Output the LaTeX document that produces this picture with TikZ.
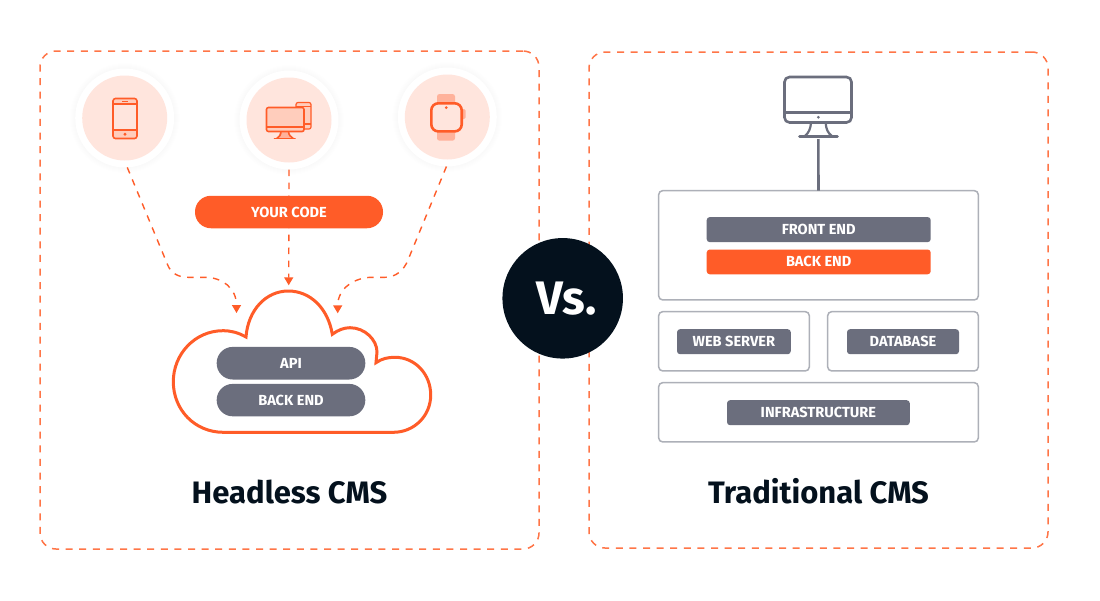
\documentclass[tikz,border=0pt]{standalone}
\usepackage{fontspec}
\setmainfont{Fira Sans}
\usetikzlibrary{arrows.meta}
\definecolor{cmsorange}{HTML}{FF5C28}
\definecolor{cmsframe}{HTML}{FF7547}
\definecolor{cmsgray}{HTML}{6B6E7D}
\definecolor{cmsedge}{HTML}{ADB0B8}
\definecolor{cmsdark}{HTML}{04111D}
\definecolor{cmsdisc}{HTML}{FFE5DD}
\definecolor{cmstint}{HTML}{FFCDBC}
\definecolor{cmsstrap}{HTML}{FFB29B}
\tikzset{
  dashframe/.style={draw=cmsframe,line width=1.5pt,dash pattern=on 7pt off 6.6pt,rounded corners=16pt,inner sep=0pt,outer sep=0pt},
  dashlink/.style={draw=cmsorange,line width=1.4pt,dash pattern=on 6.5pt off 6.5pt,-{Triangle[width=9pt,length=8pt]}},
  ringnode/.style={circle,fill=white,minimum size=99pt,inner sep=0pt,outer sep=0pt},
  pillnode/.style={rounded corners=16pt,fill=#1,text=white,font=\bfseries\fontsize{14.6}{14.6}\selectfont,inner sep=0pt,outer sep=0pt},
  barnode/.style={rounded corners=3pt,fill=#1,text=white,font=\bfseries\fontsize{14.6}{14.6}\selectfont,inner sep=0pt,outer sep=0pt},
  layerbox/.style={draw=cmsedge,line width=1.5pt,rounded corners=4pt,inner sep=0pt,outer sep=0pt},
  icon/.style={draw=cmsorange,line width=1.6pt},
  screenicon/.style={draw=cmsgray,line width=2.6pt},
  titlenode/.style={text=cmsdark,font=\bfseries\fontsize{31}{31}\selectfont,anchor=base,inner sep=0pt}
}
\begin{document}
\begin{tikzpicture}[x=1pt,y=-1pt]
\useasboundingbox[fill=white] (0,0) rectangle (1100,600);

% frames
\node[dashframe,minimum width=499pt,minimum height=498pt] (headlessframe) at (289.5,300) {};
\node[dashframe,minimum width=459pt,minimum height=496pt] (traditionalframe) at (818.5,300) {};

% device circles
\foreach \iconname/\ix/\iy in {phone/124.7/118,desktop/289/120,watch/447.3/117}{
  \foreach \r in {50,51,52,53,54,55}
    \fill[black,opacity=.004] (\ix,\iy) circle (\r);
  \node[ringnode] (\iconname) at (\ix,\iy) {};
  \fill[cmsdisc] (\ix,\iy) circle (42.5);
}

% phone icon
\fill[cmstint] (113,98.5) rectangle (137,104);
\fill[cmstint] (113,130) rectangle (137,138.5);
\draw[icon,rounded corners=2.5pt] (113,98.5) rectangle (137,138.5);
\draw[icon] (113,104) -- (137,104) (113,130) -- (137,130);
\draw[icon] (122,101.3) -- (128,101.3);
\fill[cmsorange] (125,134.2) circle (1.7);

% desktop icon
\fill[cmstint,rounded corners=2pt] (296,102.5) rectangle (311,129);
\draw[icon,line width=1.2pt,rounded corners=2pt] (296,102.5) rectangle (311,129);
\draw[icon,line width=1.2pt] (296,106.5) -- (311,106.5) (304,124) -- (311,124);
\fill[cmstint,rounded corners=2pt] (266.5,107.5) rectangle (304,131.5);
\fill[cmsstrap] (280,132) -- (289,132) -- (291,138) -- (278,138) -- cycle;
\draw[icon,rounded corners=2pt] (266.5,107.5) rectangle (304,131.5);
\draw[icon] (266.5,126.7) -- (304,126.7);
\draw[icon] (281,131.5) .. controls (281,135) and (279,137) .. (277,138.3);
\draw[icon] (288.5,131.5) .. controls (288.5,135) and (291,137) .. (293,138.3);
\draw[icon,line cap=round] (274.5,138.3) -- (295,138.3);

% watch icon
\fill[cmsstrap,rounded corners=2.5pt] (437,94) rectangle (455,106);
\fill[cmsstrap,rounded corners=2.5pt] (437,129) rectangle (455,140.7);
\fill[cmsstrap,rounded corners=1.5pt] (459,109) rectangle (465.7,119);
\draw[draw=cmsorange,line width=2.6pt,fill=cmsdisc,rounded corners=7pt] (431.3,103.3) rectangle (461.7,131.4);
\fill[cmsorange] (446.3,107.6) circle (1.5);

% connectors
\coordinate (cloudleft) at (236.5,313);
\coordinate (cloudtop) at (288.7,285.3);
\coordinate (cloudright) at (337.7,313.3);
\draw[dashlink] (phone.-87) -- (167.7,265) .. controls (171,273) and (178,277.3) .. (188,277.3) -- (205,277.3) .. controls (222,277.3) and (236.5,288) .. (cloudleft);
\draw[dashlink] (desktop.south) -- (cloudtop);
\draw[dashlink] (watch.-91) -- (408,260) .. controls (404,270) and (396,277.3) .. (385,277.3) -- (372,277.3) .. controls (355,277.3) and (337.7,288) .. (cloudright);

\node[pillnode=cmsorange,minimum width=188pt,minimum height=32.5pt] (yourcode) at (289,212) {YOUR CODE};

% cloud
\draw[cmsorange,line width=3pt,miter limit=6] (246,337) .. controls (248,310) and (266,291) .. (288.3,291) .. controls (310,291) and (328,308) .. (332.3,334.3) .. controls (338,330) and (344,327.7) .. (350,327.7) .. controls (365,327.7) and (377,340) .. (377,352) -- (376,362.7) .. controls (382,358.5) and (388,357.3) .. (395,357.3) .. controls (415,357.3) and (430.7,374) .. (430.7,395) .. controls (430.7,416) and (414,432.3) .. (393.3,432.3) -- (223.3,432.3) .. controls (195,432.3) and (173.3,410) .. (173.3,381.7) .. controls (173.3,354) and (195,330.7) .. (223,330.7) .. controls (231,330.7) and (238,332.5) .. (246,337) -- cycle;
\node[pillnode=cmsgray,minimum width=148.6pt,minimum height=32.6pt] (api) at (291,363.2) {API};
\node[pillnode=cmsgray,minimum width=148.6pt,minimum height=32.4pt] (backend) at (291,400.1) {BACK END};

% monitor
\draw[screenicon,rounded corners=5pt] (784.5,77) rectangle (851.5,122.5);
\draw[screenicon] (784.5,112.3) -- (851.5,112.3);
\fill[cmsgray] (818.3,117.3) circle (1.5);
\draw[screenicon,line width=2.2pt] (811,123) .. controls (810.5,129) and (808.5,133) .. (805,136);
\draw[screenicon,line width=2.2pt] (825.7,123) .. controls (826,129) and (828,133) .. (831.7,136);
\draw[screenicon,line cap=round] (799.5,136.3) -- (837.5,136.3);
\coordinate (monitorfoot) at (818.3,139);

% layers
\node[layerbox,minimum width=319.6pt,minimum height=109.3pt] (frontbox) at (818.5,245.3) {};
\node[layerbox,minimum width=150.6pt,minimum height=59.3pt] (webbox) at (734,341.3) {};
\node[layerbox,minimum width=150.6pt,minimum height=59.3pt] (databox) at (903,341.3) {};
\node[layerbox,minimum width=319.6pt,minimum height=59.3pt] (infrabox) at (818.5,412.3) {};
\draw[cmsgray,line width=2.6pt] (monitorfoot) -- (frontbox.north);

\node[barnode=cmsgray,minimum width=224pt,minimum height=25pt] (frontend) at (818.7,229.6) {FRONT END};
\node[barnode=cmsorange,minimum width=224pt,minimum height=24.7pt] (backbar) at (818.7,261.9) {BACK END};
\node[barnode=cmsgray,minimum width=113.7pt,minimum height=25pt] (webserver) at (733.9,341.7) {WEB SERVER};
\node[barnode=cmsgray,minimum width=112pt,minimum height=25pt] (database) at (903,341.7) {DATABASE};
\node[barnode=cmsgray,minimum width=182.7pt,minimum height=25pt] (infra) at (818.4,412.7) {INFRASTRUCTURE};

% titles
\node[titlenode] (headless) at (289.5,503) {Headless CMS};
\node[titlenode] (traditional) at (818.5,503) {Traditional CMS};

\node[circle,fill=cmsdark,minimum size=120.5pt,inner sep=0pt,text=white,font=\bfseries\fontsize{47}{47}\selectfont] (versus) at (562.7,298.3) {\raisebox{-2pt}{\hspace{8pt}Vs.}};
\end{tikzpicture}
\end{document}
